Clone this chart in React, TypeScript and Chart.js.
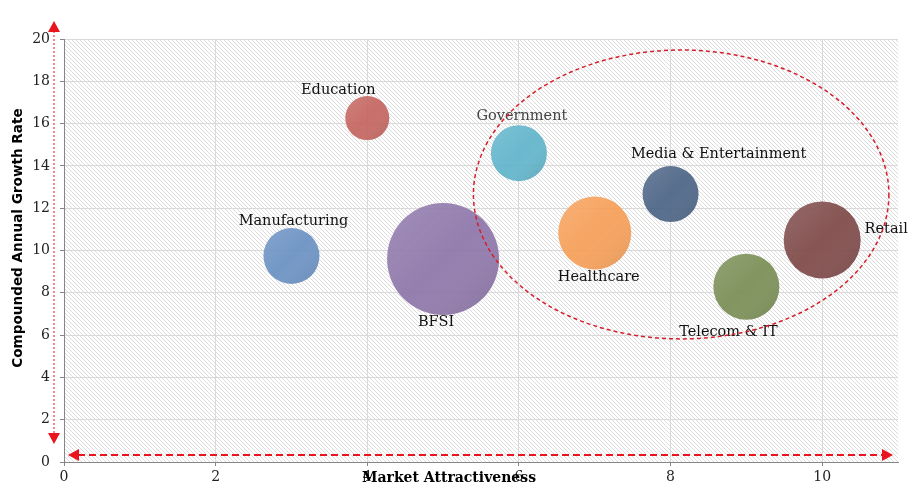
import { useEffect, useRef } from "react"
import { Chart, registerables, type ChartConfiguration, type Plugin } from "chart.js"

Chart.register(...registerables)

// Segments plotted on the attractiveness / growth matrix
const segments = [
  "Manufacturing",
  "Education",
  "BFSI",
  "Government",
  "Healthcare",
  "Media & Entertainment",
  "Telecom & IT",
  "Retail",
]
const attractiveness = [3, 4, 5, 6, 7, 8, 9, 10]
const growthRate = [9.74, 16.26, 9.6, 14.6, 10.83, 12.67, 8.29, 10.5]
const bubbleSize = [28, 22, 56, 28, 36.5, 28, 33, 38.5]

const bubbleColors = [
  "rgba(98, 139, 191, 0.88)",
  "rgba(194, 92, 86, 0.88)",
  "rgba(135, 110, 165, 0.88)",
  "rgba(88, 176, 200, 0.88)",
  "rgba(246, 154, 78, 0.88)",
  "rgba(70, 95, 130, 0.9)",
  "rgba(118, 139, 80, 0.9)",
  "rgba(122, 68, 66, 0.9)",
]
const labelColors = ["#111", "#111", "#111", "#444", "#111", "#111", "#111", "#111"]
// pixel offsets of each label from its bubble centre
const labelOffsets = [
  [2, -35],
  [-29, -28],
  [-7, 63],
  [3, -37],
  [4, 44],
  [48, -40],
  [-18, 46],
  [64, -11],
]

// dashed ellipse highlighting the attractive segments (data units)
const highlight = { cx: 8.14, cy: 12.65, rx: 2.74, ry: 6.83 }

const RED = "#e8141e"

const makeHatch = (): CanvasPattern | string => {
  const c = document.createElement("canvas")
  c.width = 4
  c.height = 4
  const g = c.getContext("2d")
  if (!g) return "#fff"
  g.fillStyle = "#ffffff"
  g.fillRect(0, 0, 4, 4)
  g.strokeStyle = "rgba(180, 180, 180, 0.65)"
  g.lineWidth = 0.75
  g.beginPath()
  g.moveTo(-1, -1)
  g.lineTo(5, 5)
  g.moveTo(3, -1)
  g.lineTo(5, 1)
  g.moveTo(-1, 3)
  g.lineTo(1, 5)
  g.stroke()
  return g.createPattern(c, "repeat") ?? "#fff"
}

const backgroundPlugin: Plugin<"bubble"> = {
  id: "hatchBackground",
  beforeDraw(chart) {
    const { ctx, chartArea } = chart
    ctx.save()
    ctx.fillStyle = makeHatch()
    ctx.fillRect(chartArea.left, chartArea.top, chartArea.right - chartArea.left, chartArea.bottom - chartArea.top)
    ctx.restore()
  },
}

const arrowHead = (ctx: CanvasRenderingContext2D, x: number, y: number, dir: "up" | "down" | "left" | "right") => {
  const s = 6
  const l = 11
  ctx.beginPath()
  if (dir === "up") {
    ctx.moveTo(x, y)
    ctx.lineTo(x - s, y + l)
    ctx.lineTo(x + s, y + l)
  } else if (dir === "down") {
    ctx.moveTo(x, y)
    ctx.lineTo(x - s, y - l)
    ctx.lineTo(x + s, y - l)
  } else if (dir === "left") {
    ctx.moveTo(x, y)
    ctx.lineTo(x + l, y - s)
    ctx.lineTo(x + l, y + s)
  } else {
    ctx.moveTo(x, y)
    ctx.lineTo(x - l, y - s)
    ctx.lineTo(x - l, y + s)
  }
  ctx.closePath()
  ctx.fill()
}

const overlayPlugin: Plugin<"bubble"> = {
  id: "overlay",
  afterDatasetsDraw(chart) {
    const { ctx, chartArea } = chart
    const xs = chart.scales.x
    const ys = chart.scales.y

    // soft shading on each bubble (lighter upper-left, darker lower-right)
    const points = chart.getDatasetMeta(0).data
    ctx.save()
    points.forEach((pt, i) => {
      const r = bubbleSize[i]
      const g = ctx.createLinearGradient(pt.x - r, pt.y - r, pt.x + r, pt.y + r)
      g.addColorStop(0, "rgba(255,255,255,0.12)")
      g.addColorStop(0.5, "rgba(255,255,255,0)")
      g.addColorStop(1, "rgba(0,0,0,0.1)")
      ctx.fillStyle = g
      ctx.beginPath()
      ctx.arc(pt.x, pt.y, r, 0, Math.PI * 2)
      ctx.fill()
    })
    ctx.restore()

    // bubble labels
    ctx.save()
    ctx.font = "14.5px 'DejaVu Serif'"
    ctx.textAlign = "center"
    ctx.textBaseline = "middle"
    segments.forEach((name, i) => {
      const px = xs.getPixelForValue(attractiveness[i])
      const py = ys.getPixelForValue(growthRate[i])
      ctx.fillStyle = labelColors[i]
      ctx.fillText(name, px + labelOffsets[i][0], py + labelOffsets[i][1])
    })
    ctx.restore()

    // highlight ellipse
    const ecx = xs.getPixelForValue(highlight.cx)
    const ecy = ys.getPixelForValue(highlight.cy)
    const erx = xs.getPixelForValue(highlight.cx + highlight.rx) - ecx
    const ery = ecy - ys.getPixelForValue(highlight.cy + highlight.ry)
    ctx.save()
    ctx.strokeStyle = "#d61e2a"
    ctx.lineWidth = 1.5
    ctx.setLineDash([4, 3])
    ctx.beginPath()
    ctx.ellipse(ecx, ecy, erx, ery, 0, 0, Math.PI * 2)
    ctx.stroke()
    ctx.restore()

    // axis arrows
    ctx.save()
    ctx.strokeStyle = RED
    ctx.fillStyle = RED
    const vx = chartArea.left - 10
    ctx.lineWidth = 1
    ctx.setLineDash([2, 2])
    ctx.beginPath()
    ctx.moveTo(vx, chartArea.top - 8)
    ctx.lineTo(vx, chartArea.bottom - 26)
    ctx.stroke()
    ctx.setLineDash([])
    arrowHead(ctx, vx, chartArea.top - 18, "up")
    arrowHead(ctx, vx, chartArea.bottom - 18, "down")

    const hy = chartArea.bottom - 7
    ctx.lineWidth = 2
    ctx.setLineDash([7, 4])
    ctx.beginPath()
    ctx.moveTo(chartArea.left + 14, hy)
    ctx.lineTo(chartArea.right - 14, hy)
    ctx.stroke()
    ctx.setLineDash([])
    arrowHead(ctx, chartArea.left + 4, hy, "left")
    arrowHead(ctx, chartArea.right - 5, hy, "right")
    ctx.restore()
  },
  afterDraw(chart) {
    const { ctx, chartArea } = chart
    ctx.save()
    ctx.fillStyle = "#000"
    ctx.textAlign = "center"
    ctx.textBaseline = "middle"
    ctx.font = "bold 14px 'DejaVu Serif'"
    ctx.fillText("Market Attractiveness", chartArea.left + 385, chartArea.bottom + 16)
    ctx.translate(18, chartArea.top + 199)
    ctx.rotate(-Math.PI / 2)
    ctx.font = "bold 13.6px 'DejaVu Sans'"
    ctx.fillText("Compounded Annual Growth Rate", 0, 0)
    ctx.restore()
  },
}

const BubbleMatrix = () => {
  const canvasRef = useRef<HTMLCanvasElement>(null)
  const chartRef = useRef<Chart<"bubble"> | null>(null)

  useEffect(() => {
    if (!canvasRef.current) return
    document.body.style.margin = "0"
    if (chartRef.current) chartRef.current.destroy()

    const tickFont = { family: "'DejaVu Serif'", size: 14 }

    const config: ChartConfiguration<"bubble"> = {
      type: "bubble",
      data: {
        datasets: [
          {
            label: "Segments",
            data: segments.map((_, i) => ({ x: attractiveness[i], y: growthRate[i], r: bubbleSize[i] })),
            backgroundColor: bubbleColors,
            borderColor: "rgba(255,255,255,0)",
            borderWidth: 0,
            clip: false,
          },
        ],
      },
      options: {
        responsive: false,
        animation: false,
        layout: { autoPadding: false, padding: { top: 39, right: 24, left: 0, bottom: 0 } },
        plugins: { legend: { display: false }, tooltip: { enabled: false } },
        scales: {
          x: {
            type: "linear",
            min: 0,
            max: 11,
            afterFit: (s) => {
              s.height = 37
            },
            ticks: { stepSize: 2, includeBounds: false, font: tickFont, color: "#222", padding: 3 },
            grid: { color: "#d9d9d9", tickColor: "#868686", tickLength: 4 },
            border: { color: "#868686", width: 1 },
          },
          y: {
            type: "linear",
            min: 0,
            max: 20,
            afterFit: (s) => {
              s.width = 64
            },
            ticks: { stepSize: 2, font: tickFont, color: "#222", padding: 10 },
            grid: { color: "#d9d9d9", tickColor: "#868686", tickLength: 4 },
            border: { color: "#868686", width: 1 },
          },
        },
      },
      plugins: [backgroundPlugin, overlayPlugin],
    }

    chartRef.current = new Chart(canvasRef.current, config)

    return () => {
      if (chartRef.current) {
        chartRef.current.destroy()
        chartRef.current = null
      }
    }
  }, [])

  return (
    <div style={{ width: 922, height: 499 }}>
      <canvas ref={canvasRef} width={922} height={499}></canvas>
    </div>
  )
}

export default function App() {
  return <BubbleMatrix />
}
